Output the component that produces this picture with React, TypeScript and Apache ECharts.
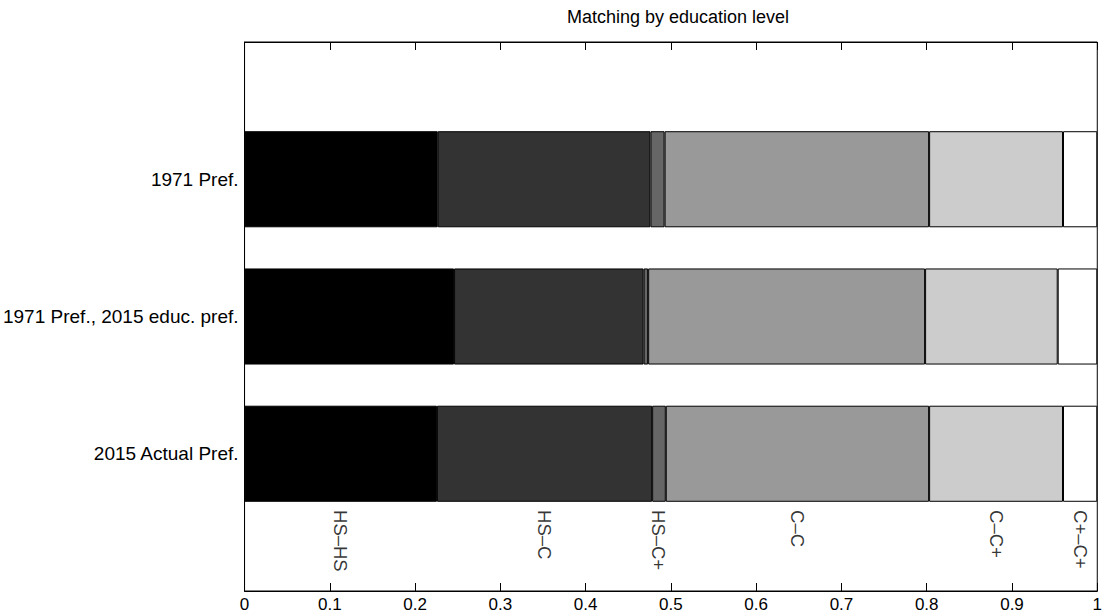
import React, { useEffect, useRef } from "react";
import * as echarts from "echarts";

const categories = ["", "2015 Actual Pref.", "1971 Pref., 2015 educ. pref.", "1971 Pref.", ""];
const segmentNames = ["HS–HS", "HS–C", "HS–C+", "C–C", "C–C+", "C+–C+"];
const segmentColors = ["#000000", "#333333", "#666666", "#999999", "#cccccc", "#ffffff"];
// values per segment, for [2015 Actual Pref., 1971 Pref. 2015 educ. pref., 1971 Pref.]
const hsHs = [0.2256, 0.2457, 0.2266];
const hsC = [0.2524, 0.2223, 0.2494];
const hsCp = [0.016, 0.0053, 0.0166];
const cC = [0.3088, 0.3248, 0.3102];
const cCp = [0.157, 0.1555, 0.157];
const cpCp = [0.0402, 0.0464, 0.0402];
const xTicks = [0, 0.1, 0.2, 0.3, 0.4, 0.5, 0.6, 0.7, 0.8, 0.9, 1];
const labelRowValue = 0.59;

const FONT = "'Liberation Sans', Arial, Helvetica, sans-serif";

export default function App() {
  const ref = useRef<HTMLDivElement>(null);
  useEffect(() => {
    if (!ref.current) return;
    const chart = echarts.init(ref.current, undefined, { renderer: "svg" });
    const segs = [hsHs, hsC, hsCp, cC, cCp, cpCp];
    const barSeries = segs.map((vals, i) => ({
      name: segmentNames[i],
      type: "bar",
      stack: "total",
      barWidth: "70%",
      data: [null, ...vals, null],
      itemStyle: { color: segmentColors[i], borderColor: "#000", borderWidth: 1 },
      silent: true,
    }));
    // centers of bottom bar segments for the legend labels
    let acc = 0;
    const labelPts = segs.map((vals, i) => {
      const c = acc + vals[0] / 2;
      acc += vals[0];
      return { name: segmentNames[i], value: [c, labelRowValue] };
    });
    chart.setOption({
      animation: false,
      title: {
        text: "Matching by education level",
        left: 673,
        textAlign: "center",
        top: 3,
        textStyle: { fontFamily: FONT, fontSize: 18, fontWeight: "normal", color: "#000" },
      },
      grid: {
        left: 243,
        right: 1,
        top: 42,
        bottom: 23,
        show: true,
        borderColor: "#000",
        borderWidth: 1,
        backgroundColor: "#fff",
      },
      xAxis: [
        {
          type: "value",
          min: 0,
          max: 1,
          interval: 0.1,
          position: "bottom",
          splitLine: { show: false },
          axisLine: { show: true, lineStyle: { color: "#000" } },
          axisTick: { show: true, inside: true, length: 8, lineStyle: { color: "#000" } },
          axisLabel: {
            color: "#000",
            fontFamily: FONT,
            fontSize: 17,
            margin: 5,
            formatter: (v: number) => {
              const t = xTicks.find((x) => Math.abs(x - v) < 1e-6);
              return t === undefined ? "" : String(t);
            },
          },
        },
        {
          type: "value",
          min: 0,
          max: 1,
          interval: 0.1,
          position: "top",
          splitLine: { show: false },
          axisLine: { show: true, lineStyle: { color: "#000" } },
          axisTick: { show: true, inside: true, length: 8, lineStyle: { color: "#000" } },
          axisLabel: { show: false },
        },
      ],
      yAxis: [
        {
          type: "category",
          data: categories,
          boundaryGap: false,
          axisLine: { show: true, lineStyle: { color: "#000" } },
          axisTick: { show: false },
          splitLine: { show: false },
          axisLabel: { color: "#000", fontFamily: FONT, fontSize: 19, margin: 6, interval: 0 },
        },
        {
          type: "value",
          min: 0,
          max: 4,
          show: false,
          splitLine: { show: false },
        },
      ],
      series: [
        ...barSeries,
        {
          type: "scatter",
          yAxisIndex: 1,
          symbolSize: 0,
          silent: true,
          data: labelPts,
          label: {
            show: true,
            position: "inside",
            formatter: "{b}",
            rotate: -90,
            align: "left",
            verticalAlign: "middle",
            color: "#000",
            fontFamily: FONT,
            fontSize: 18.5,
          },
        },
      ],
    });
    return () => chart.dispose();
  }, []);
  return (
    <div
      ref={ref}
      style={{ position: "fixed", left: 0, top: 0, width: 1105, height: 614, background: "#fff" }}
    />
  );
}
